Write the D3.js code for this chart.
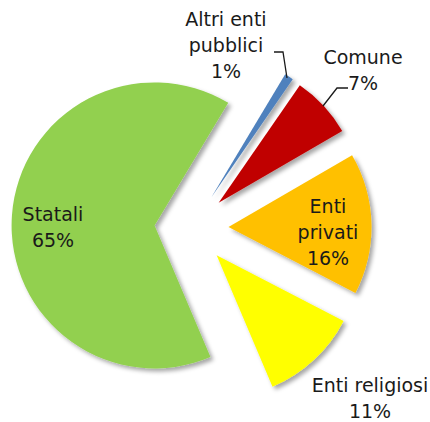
<!DOCTYPE html>
<html>
<head>
<meta charset="utf-8">
<script src="https://cdn.jsdelivr.net/npm/d3@7"></script>
<style>
  html, body { margin: 0; padding: 0; background: #fff; }
  svg { display: block; }
  text { font-family: "DejaVu Sans", sans-serif; font-size: 19px; fill: #1a1a1a; }
</style>
</head>
<body>
<div id="chart"></div>
<script>
// données
const categories = ["Altri enti pubblici", "Comune", "Enti privati", "Enti religiosi", "Statali"];
const values = [1, 7, 16, 11, 65];
const colors = ["#4F81BD", "#C00000", "#FFC000", "#FFFF00", "#92D050"];

// mise en page
const width = 430, height = 422;
const cx = 191.5, cy = 228;
const radius = 143;
const explode = 37;
const firstAngle = 31 * Math.PI / 180;

// étiquettes : lignes de texte, position (x, première ligne de base), interligne 26
const labels = [
  { lines: ["Altri enti", "pubblici", "1%"], x: 226, y: 26 },
  { lines: ["Comune", "7%"], x: 363, y: 64 },
  { lines: ["Enti", "privati", "16%"], x: 328, y: 213 },
  { lines: ["Enti religiosi", "11%"], x: 370, y: 392 },
  { lines: ["Statali", "65%"], x: 53, y: 221 }
];
// lignes de rappel
const leaders = [
  [[274, 52], [283, 52], [287, 78]],
  [[348, 88], [337, 88], [323, 106]]
];

const svg = d3.select("#chart").append("svg")
  .attr("width", width).attr("height", height);

const defs = svg.append("defs");
const f = defs.append("filter").attr("id", "shadow")
  .attr("x", "-20%").attr("y", "-20%").attr("width", "140%").attr("height", "140%");
f.append("feDropShadow").attr("dx", 3).attr("dy", 3).attr("stdDeviation", 2)
  .attr("flood-color", "#000").attr("flood-opacity", 0.35);

const pie = d3.pie().sort(null).value(d => d)
  .startAngle(firstAngle).endAngle(firstAngle + 2 * Math.PI);
const arc = d3.arc().innerRadius(0).outerRadius(radius);

const arcs = pie(values);

const g = svg.append("g").attr("transform", `translate(${cx},${cy})`);

g.selectAll("path.slice").data(arcs).enter().append("path")
  .attr("class", "slice")
  .attr("d", arc)
  .attr("fill", (d, i) => colors[i])
  .attr("filter", "url(#shadow)")
  .attr("transform", d => {
    const a = (d.startAngle + d.endAngle) / 2;
    return `translate(${explode * Math.sin(a)},${-explode * Math.cos(a)})`;
  });

// rappels
const line = d3.line();
svg.selectAll("path.leader").data(leaders).enter().append("path")
  .attr("class", "leader")
  .attr("d", line)
  .attr("fill", "none").attr("stroke", "#1a1a1a").attr("stroke-width", 1.3);

// textes
labels.forEach(l => {
  const t = svg.append("text").attr("text-anchor", "middle");
  l.lines.forEach((s, k) => {
    t.append("tspan").attr("x", l.x).attr("y", l.y + k * 26).text(s);
  });
});
</script>
</body>
</html>
